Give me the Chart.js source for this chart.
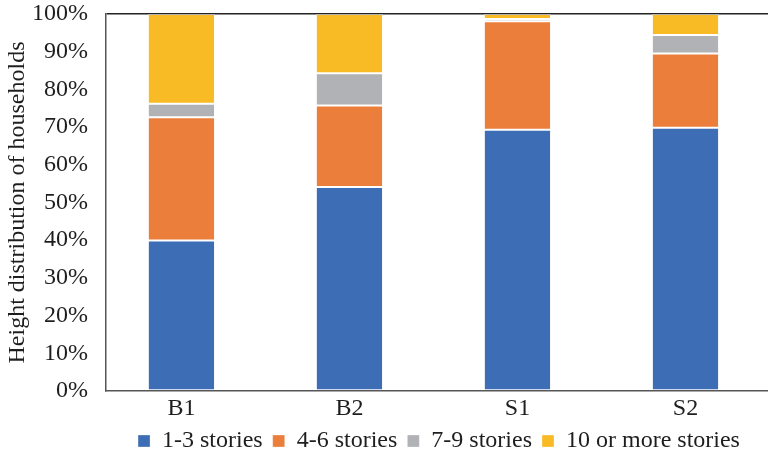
<!DOCTYPE html>
<html>
<head>
<meta charset="utf-8">
<script src="https://cdn.jsdelivr.net/npm/chart.js@4/dist/chart.umd.min.js"></script>
<style>
  html, body { margin: 0; padding: 0; background: #fff; overflow: hidden; }
  #wrap { width: 868px; height: 457px; }
</style>
</head>
<body>
<div id="wrap"><canvas id="c" width="868" height="457"></canvas></div>
<script>
// Household height distribution by area (percent of households)
const categories = ['B1', 'B2', 'S1', 'S2'];
const seriesNames = ['1-3 stories', '4-6 stories', '7-9 stories', '10 or more stories'];
const stories1to3 = [39.9, 54.1, 69.3, 69.8];
const stories4to6 = [32.7, 21.6, 28.8, 19.7];
const stories7to9 = [3.6, 8.6, 0.6, 4.9];
const stories10plus = [23.8, 15.7, 1.3, 5.6];
const yTicks = [0, 10, 20, 30, 40, 50, 60, 70, 80, 90, 100];

const colors = ['#3d6db4', '#eb7e3a', '#b1b2b5', '#f8bb26'];
const values = [stories1to3, stories4to6, stories7to9, stories10plus];

const FONT = "'Liberation Serif', 'Times New Roman', serif";
const TEXT = '#1e1e1e';

// category positions on a numeric x axis (index of each category)
const xMin = -0.449;
const xMax = 3.515;

new Chart(document.getElementById('c'), {
  type: 'bar',
  data: {
    datasets: seriesNames.map((name, i) => ({
      label: name,
      data: values[i].map((v, j) => ({ x: j, y: v })),
      backgroundColor: colors[i],
      borderColor: 'rgba(255,255,255,0.3)',
      borderWidth: 1,
      borderSkipped: false,
      categoryPercentage: 1.0,
      barPercentage: 0.4
    }))
  },
  options: {
    responsive: false,
    devicePixelRatio: 1,
    animation: false,
    layout: { padding: { left: 0, right: 96, top: 0, bottom: -6 } },
    plugins: {
      tooltip: { enabled: false },
      legend: {
        position: 'bottom',
        fullSize: false,
        labels: {
          color: TEXT,
          font: { family: FONT, size: 24 },
          boxWidth: 12,
          boxHeight: 12,
          padding: 10
        }
      }
    },
    scales: {
      x: {
        type: 'linear',
        stacked: true,
        offset: false,
        min: xMin,
        max: xMax,
        afterBuildTicks: (axis) => { axis.ticks = categories.map((c, j) => ({ value: j })); },
        grid: { display: false, drawTicks: false },
        border: { display: true, color: '#555', width: 1.5 },
        ticks: {
          color: TEXT,
          font: { family: FONT, size: 24 },
          padding: 3,
          maxRotation: 0,
          autoSkip: false,
          callback: (v) => categories[v] ?? ''
        },
        afterFit: (scale) => { scale.height = 28; }
      },
      y: {
        stacked: true,
        min: 0,
        max: 100,
        afterBuildTicks: (axis) => { axis.ticks = yTicks.map(v => ({ value: v })); },
        afterFit: (scale) => { scale.width = 106; scale.paddingTop = 14; },
        grid: {
          drawTicks: false,
          color: (ctx) => (ctx.tick && ctx.tick.value === 100 ? '#222' : 'rgba(0,0,0,0)'),
          lineWidth: 1.5
        },
        border: { display: true, color: '#555', width: 1.5 },
        ticks: {
          color: TEXT,
          font: { family: FONT, size: 24 },
          padding: 18,
          callback: (v) => v + '%'
        },
        title: {
          display: true,
          text: 'Height distribution of households',
          color: TEXT,
          font: { family: FONT, size: 24 },
          padding: { top: 3, bottom: 0 }
        }
      }
    }
  }
});
</script>
</body>
</html>
